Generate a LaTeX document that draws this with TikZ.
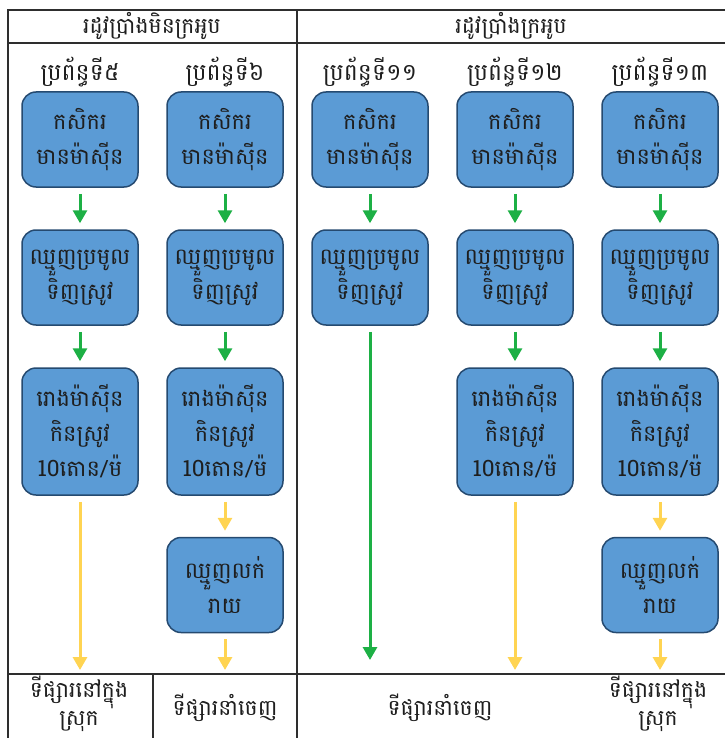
\documentclass[tikz,border=0pt]{standalone}
\usepackage{fontspec}
\usetikzlibrary{arrows.meta}
\newfontfamily\kh[Script=Khmer]{Battambang}
\definecolor{boxblue}{HTML}{5B9BD5}
\definecolor{boxedge}{HTML}{254A70}
\definecolor{arrgreen}{HTML}{1DB045}
\definecolor{arryellow}{HTML}{FFD452}
\definecolor{linec}{HTML}{2E2E2E}
\definecolor{textc}{HTML}{1E1E1E}
\tikzset{
  frame/.style={draw=linec, line width=2pt},
  box/.style={rounded corners=14pt, fill=boxblue, draw=boxedge, line width=1.5pt,
    minimum width=116pt, align=center, text=textc,
    font=\kh\fontsize{22.5}{35}\selectfont, inner sep=0pt},
  twoline/.style={box, minimum height=95pt},
  threeline/.style={box, minimum height=127pt},
  lbl/.style={align=center, text=textc, font=\kh\fontsize{22}{28}\selectfont, inner sep=0pt},
  colhead/.style={lbl, font=\kh\fontsize{23.5}{28}\selectfont},
  garrow/.style={draw=arrgreen, line width=3pt, -{Triangle[width=14pt,length=13pt]}, shorten <=6pt, shorten >=6pt},
  yarrow/.style={draw=arryellow, line width=3pt, -{Triangle[width=14pt,length=13pt]}, shorten <=6pt, shorten >=6pt},
}
\begin{document}
\begin{tikzpicture}[x=1pt,y=-1pt]
\useasboundingbox (0,0) rectangle (725,738);
% frame lines
\coordinate (tl) at (8,10);
\coordinate (tr) at (725,10);
\coordinate (hl) at (8,43);
\coordinate (hr) at (725,43);
\coordinate (bl) at (8,674);
\coordinate (br) at (725,674);
\coordinate (lb) at (8,738);
\coordinate (mt) at (297,10);
\coordinate (mb) at (297,738);
\coordinate (st) at (153,674);
\coordinate (sb) at (153,738);
\draw[frame] (lb) -- (tl) -- (tr);
\draw[frame] (hl) -- (hr);
\draw[frame] (bl) -- (br);
\draw[frame] (mt) -- (mb);
\draw[frame] (st) -- (sb);
% headers
\node[lbl] (h1) at (152,26) {រដូវប្រាំងមិនក្រអូប};
\node[lbl] (h2) at (511,26) {រដូវប្រាំងក្រអូប};
\node[colhead] (c5) at (80,72) {ប្រព័ន្ធទី៥};
\node[colhead] (c6) at (225,72) {ប្រព័ន្ធទី៦};
\node[colhead] (c11) at (370,72) {ប្រព័ន្ធទី១១};
\node[colhead] (c12) at (515,72) {ប្រព័ន្ធទី១២};
\node[colhead] (c13) at (660,72) {ប្រព័ន្ធទី១៣};
% column 5
\node[twoline] (a1) at (80,139.5) {កសិករ\\មានម៉ាស៊ីន};
\node[twoline] (a2) at (80,277.5) {ឈ្មួញប្រមូល\\ទិញស្រូវ};
\node[threeline] (a3) at (80,431.5) {រោងម៉ាស៊ីន\\កិនស្រូវ\\10តោន/ម៉};
% column 6
\node[twoline] (b1) at (225,139.5) {កសិករ\\មានម៉ាស៊ីន};
\node[twoline] (b2) at (225,277.5) {ឈ្មួញប្រមូល\\ទិញស្រូវ};
\node[threeline] (b3) at (225,431.5) {រោងម៉ាស៊ីន\\កិនស្រូវ\\10តោន/ម៉};
\node[twoline] (b4) at (225,585) {ឈ្មួញលក់\\រាយ};
% column 11
\node[twoline] (c1) at (370,139.5) {កសិករ\\មានម៉ាស៊ីន};
\node[twoline] (c2) at (370,277.5) {ឈ្មួញប្រមូល\\ទិញស្រូវ};
% column 12
\node[twoline] (d1) at (515,139.5) {កសិករ\\មានម៉ាស៊ីន};
\node[twoline] (d2) at (515,277.5) {ឈ្មួញប្រមូល\\ទិញស្រូវ};
\node[threeline] (d3) at (515,431.5) {រោងម៉ាស៊ីន\\កិនស្រូវ\\10តោន/ម៉};
% column 13
\node[twoline] (e1) at (660,139.5) {កសិករ\\មានម៉ាស៊ីន};
\node[twoline] (e2) at (660,277.5) {ឈ្មួញប្រមូល\\ទិញស្រូវ};
\node[threeline] (e3) at (660,431.5) {រោងម៉ាស៊ីន\\កិនស្រូវ\\10តោន/ម៉};
\node[twoline] (e4) at (660,585) {ឈ្មួញលក់\\រាយ};
% bottom labels
\node[lbl] (m1) at (79,704) {ទីផ្សារនៅក្នុង\\ស្រុក};
\node[lbl] (m2) at (225,708) {ទីផ្សារនាំចេញ};
\node[lbl] (m3) at (440,708) {ទីផ្សារនាំចេញ};
\node[lbl] (m4) at (658,704) {ទីផ្សារនៅក្នុង\\ស្រុក};
% arrow end points
\coordinate (ea) at (80,676);
\coordinate (eb) at (225,676);
\coordinate (ec) at (370,666);
\coordinate (ed) at (515,676);
\coordinate (ee) at (660,676);
% arrows
\draw[garrow] (a1) -- (a2);
\draw[garrow] (a2) -- (a3);
\draw[yarrow] (a3) -- (ea);
\draw[garrow] (b1) -- (b2);
\draw[garrow] (b2) -- (b3);
\draw[yarrow] (b3) -- (b4);
\draw[yarrow] (b4) -- (eb);
\draw[garrow] (c1) -- (c2);
\draw[garrow] (c2) -- (ec);
\draw[garrow] (d1) -- (d2);
\draw[garrow] (d2) -- (d3);
\draw[yarrow] (d3) -- (ed);
\draw[garrow] (e1) -- (e2);
\draw[garrow] (e2) -- (e3);
\draw[yarrow] (e3) -- (e4);
\draw[yarrow] (e4) -- (ee);
\end{tikzpicture}
\end{document}
